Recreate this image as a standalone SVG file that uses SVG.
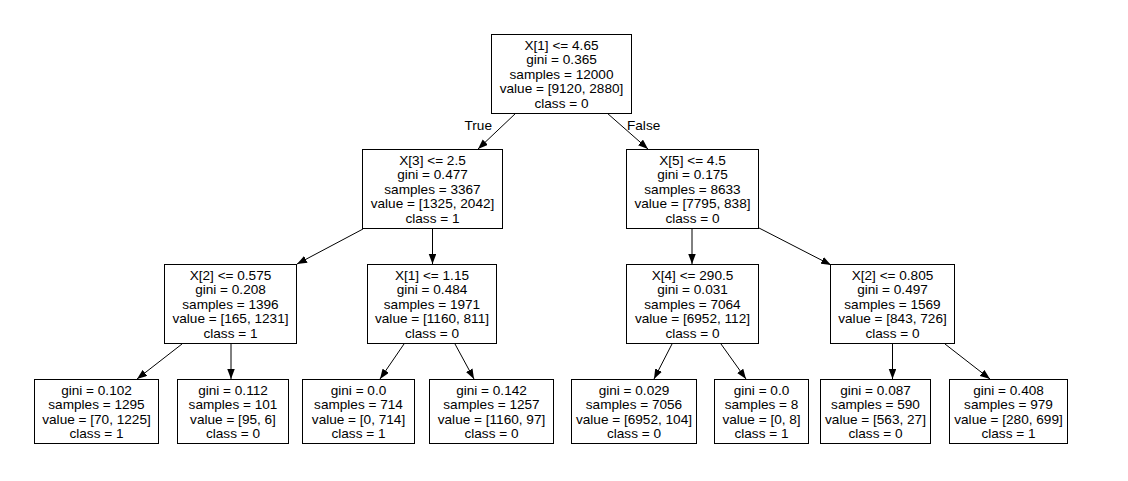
<svg xmlns="http://www.w3.org/2000/svg" width="1128" height="481" viewBox="0 0 1128 481">
<style>
.box{fill:#fff;stroke:#000;stroke-width:1}
.t{font-family:"Liberation Sans",Arial,sans-serif;font-size:13.6px;fill:#000;text-anchor:middle}
.lbl{font-family:"Liberation Sans",Arial,sans-serif;font-size:13.6px;fill:#000}
.e{stroke:#000;stroke-width:1;fill:none;marker-end:url(#arr)}
</style>
<defs>
<marker id="arr" markerUnits="userSpaceOnUse" markerWidth="11" markerHeight="8" refX="10" refY="3.75" orient="auto">
<path d="M0,0 L10,3.75 L0,7.5 z" fill="#000"/>
</marker>
</defs>
<rect width="1128" height="481" fill="#fff"/>
<g id="connectors">
<line class="e" x1="516" y1="113" x2="478" y2="149"/>
<line class="e" x1="607" y1="113" x2="648" y2="149"/>
<line class="e" x1="363" y1="229" x2="297" y2="264"/>
<line class="e" x1="432.5" y1="229" x2="432.5" y2="264"/>
<line class="e" x1="692" y1="229" x2="692" y2="264"/>
<line class="e" x1="759" y1="228" x2="831" y2="265"/>
<line class="e" x1="182" y1="344" x2="137" y2="379"/>
<line class="e" x1="231" y1="344" x2="231" y2="379"/>
<line class="e" x1="404" y1="344" x2="380" y2="379"/>
<line class="e" x1="455" y1="344" x2="474" y2="379"/>
<line class="e" x1="672" y1="344" x2="654" y2="379"/>
<line class="e" x1="721" y1="344" x2="746" y2="379"/>
<line class="e" x1="892.5" y1="344" x2="892.5" y2="379"/>
<line class="e" x1="945" y1="344" x2="990" y2="379"/>
<text class="lbl" x="492" y="130" text-anchor="end">True</text>
<text class="lbl" x="627" y="130">False</text>
</g>
<g id="n0"><rect class="box" x="491.5" y="34.5" width="140" height="79"/>
<text class="t" x="561.5" y="49.5"><tspan x="561.5">X[1] &lt;= 4.65</tspan><tspan x="561.5" dy="14.6">gini = 0.365</tspan><tspan x="561.5" dy="14.6">samples = 12000</tspan><tspan x="561.5" dy="14.6">value = [9120, 2880]</tspan><tspan x="561.5" dy="14.6">class = 0</tspan></text></g>
<g id="n1"><rect class="box" x="362.5" y="149.5" width="140" height="79"/>
<text class="t" x="432.5" y="164.5"><tspan x="432.5">X[3] &lt;= 2.5</tspan><tspan x="432.5" dy="14.6">gini = 0.477</tspan><tspan x="432.5" dy="14.6">samples = 3367</tspan><tspan x="432.5" dy="14.6">value = [1325, 2042]</tspan><tspan x="432.5" dy="14.6">class = 1</tspan></text></g>
<g id="n2"><rect class="box" x="626.5" y="149.5" width="132" height="79"/>
<text class="t" x="692.5" y="164.5"><tspan x="692.5">X[5] &lt;= 4.5</tspan><tspan x="692.5" dy="14.6">gini = 0.175</tspan><tspan x="692.5" dy="14.6">samples = 8633</tspan><tspan x="692.5" dy="14.6">value = [7795, 838]</tspan><tspan x="692.5" dy="14.6">class = 0</tspan></text></g>
<g id="n3"><rect class="box" x="164.5" y="264.5" width="132" height="79"/>
<text class="t" x="230.5" y="279.5"><tspan x="230.5">X[2] &lt;= 0.575</tspan><tspan x="230.5" dy="14.6">gini = 0.208</tspan><tspan x="230.5" dy="14.6">samples = 1396</tspan><tspan x="230.5" dy="14.6">value = [165, 1231]</tspan><tspan x="230.5" dy="14.6">class = 1</tspan></text></g>
<g id="n4"><rect class="box" x="367.5" y="264.5" width="129" height="79"/>
<text class="t" x="432" y="279.5"><tspan x="432">X[1] &lt;= 1.15</tspan><tspan x="432" dy="14.6">gini = 0.484</tspan><tspan x="432" dy="14.6">samples = 1971</tspan><tspan x="432" dy="14.6">value = [1160, 811]</tspan><tspan x="432" dy="14.6">class = 0</tspan></text></g>
<g id="n5"><rect class="box" x="626.5" y="264.5" width="132" height="79"/>
<text class="t" x="692.5" y="279.5"><tspan x="692.5">X[4] &lt;= 290.5</tspan><tspan x="692.5" dy="14.6">gini = 0.031</tspan><tspan x="692.5" dy="14.6">samples = 7064</tspan><tspan x="692.5" dy="14.6">value = [6952, 112]</tspan><tspan x="692.5" dy="14.6">class = 0</tspan></text></g>
<g id="n6"><rect class="box" x="830.5" y="264.5" width="124" height="79"/>
<text class="t" x="892.5" y="279.5"><tspan x="892.5">X[2] &lt;= 0.805</tspan><tspan x="892.5" dy="14.6">gini = 0.497</tspan><tspan x="892.5" dy="14.6">samples = 1569</tspan><tspan x="892.5" dy="14.6">value = [843, 726]</tspan><tspan x="892.5" dy="14.6">class = 0</tspan></text></g>
<g id="l1"><rect class="box" x="34.5" y="379.5" width="124" height="64"/>
<text class="t" x="96.5" y="394.5"><tspan x="96.5">gini = 0.102</tspan><tspan x="96.5" dy="14.5">samples = 1295</tspan><tspan x="96.5" dy="14.5">value = [70, 1225]</tspan><tspan x="96.5" dy="14.5">class = 1</tspan></text></g>
<g id="l2"><rect class="box" x="177.5" y="379.5" width="111" height="64"/>
<text class="t" x="233" y="394.5"><tspan x="233">gini = 0.112</tspan><tspan x="233" dy="14.5">samples = 101</tspan><tspan x="233" dy="14.5">value = [95, 6]</tspan><tspan x="233" dy="14.5">class = 0</tspan></text></g>
<g id="l3"><rect class="box" x="302.5" y="379.5" width="112" height="64"/>
<text class="t" x="358.5" y="394.5"><tspan x="358.5">gini = 0.0</tspan><tspan x="358.5" dy="14.5">samples = 714</tspan><tspan x="358.5" dy="14.5">value = [0, 714]</tspan><tspan x="358.5" dy="14.5">class = 1</tspan></text></g>
<g id="l4"><rect class="box" x="429.5" y="379.5" width="124" height="64"/>
<text class="t" x="491.5" y="394.5"><tspan x="491.5">gini = 0.142</tspan><tspan x="491.5" dy="14.5">samples = 1257</tspan><tspan x="491.5" dy="14.5">value = [1160, 97]</tspan><tspan x="491.5" dy="14.5">class = 0</tspan></text></g>
<g id="l5"><rect class="box" x="571.5" y="379.5" width="125" height="64"/>
<text class="t" x="634" y="394.5"><tspan x="634">gini = 0.029</tspan><tspan x="634" dy="14.5">samples = 7056</tspan><tspan x="634" dy="14.5">value = [6952, 104]</tspan><tspan x="634" dy="14.5">class = 0</tspan></text></g>
<g id="l6"><rect class="box" x="714.5" y="379.5" width="94" height="64"/>
<text class="t" x="761.5" y="394.5"><tspan x="761.5">gini = 0.0</tspan><tspan x="761.5" dy="14.5">samples = 8</tspan><tspan x="761.5" dy="14.5">value = [0, 8]</tspan><tspan x="761.5" dy="14.5">class = 1</tspan></text></g>
<g id="l7"><rect class="box" x="820.5" y="379.5" width="110" height="64"/>
<text class="t" x="875.5" y="394.5"><tspan x="875.5">gini = 0.087</tspan><tspan x="875.5" dy="14.5">samples = 590</tspan><tspan x="875.5" dy="14.5">value = [563, 27]</tspan><tspan x="875.5" dy="14.5">class = 0</tspan></text></g>
<g id="l8"><rect class="box" x="949.5" y="379.5" width="118" height="64"/>
<text class="t" x="1008.5" y="394.5"><tspan x="1008.5">gini = 0.408</tspan><tspan x="1008.5" dy="14.5">samples = 979</tspan><tspan x="1008.5" dy="14.5">value = [280, 699]</tspan><tspan x="1008.5" dy="14.5">class = 1</tspan></text></g>
</svg>
